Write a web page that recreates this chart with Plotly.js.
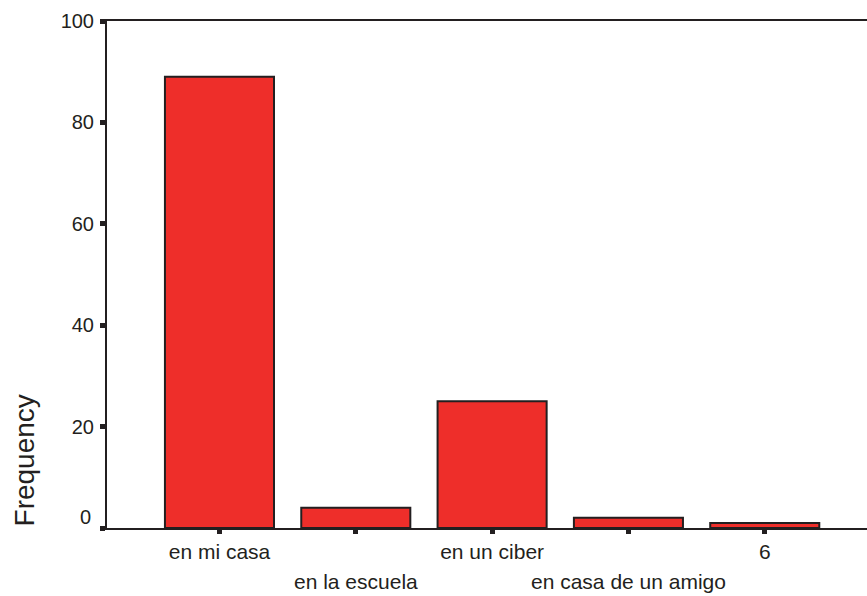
<!DOCTYPE html>
<html>
<head>
<meta charset="utf-8">
<script src="https://cdn.plot.ly/plotly-3.0.1.min.js"></script>
<style>html,body{margin:0;padding:0;background:#fff;}#chart{width:867px;height:596px;}</style>
</head>
<body>
<div id="chart"></div>
<script>
var categories = ["en mi casa", "en la escuela", "en un ciber", "en casa de un amigo", "6"];
var frequency = [89, 4, 25, 2, 1];
var yTickVals = [0, 20, 40, 60, 80, 100];
var yTickText = ["", "20", "40", "60", "80", "100"];
var yZeroLabel = "0";
var yTitle = "Frequency";

var ink = "#231f20";
var fontFam = "Liberation Sans, Arial, sans-serif";

var row1Text = categories.map(function (c, i) { return i % 2 === 0 ? c : ""; });

var annotations = [];
categories.forEach(function (c, i) {
  if (i % 2 === 1) {
    annotations.push({
      x: c, xref: "x", y: 0, yref: "paper",
      yanchor: "top", xanchor: "center",
      yshift: -41, showarrow: false, text: c, borderpad: 0,
      font: {family: fontFam, size: 21, color: ink}
    });
  }
});
annotations.push({
  x: 0, xref: "paper", y: 0, yref: "y", xanchor: "right", yanchor: "middle",
  xshift: -14, yshift: 11, showarrow: false, text: yZeroLabel,
  font: {family: fontFam, size: 20, color: ink}
});
annotations.push({
  x: -0.109, xref: "paper", y: 0.1335, yref: "paper", xanchor: "center", yanchor: "middle",
  textangle: -90, showarrow: false, text: yTitle,
  font: {family: fontFam, size: 28, color: ink}
});

var trace = {
  type: "bar",
  x: categories,
  y: frequency,
  marker: {color: "#ee2e2a", line: {color: ink, width: 2}},
  hoverinfo: "x+y"
};

var layout = {
  width: 867, height: 596,
  margin: {l: 107, r: 0, t: 21, b: 68, pad: 0},
  paper_bgcolor: "#fff", plot_bgcolor: "#fff",
  showlegend: false,
  bargap: 0.2,
  font: {family: fontFam, size: 20, color: ink},
  xaxis: {
    type: "category",
    range: [-0.825, 4.75],
    tickmode: "array", tickvals: categories, ticktext: row1Text,
    ticks: "outside", ticklen: 4, tickwidth: 5, tickcolor: ink,
    showline: true, linecolor: ink, linewidth: 2, mirror: true,
    showgrid: false, zeroline: false,
    tickfont: {family: fontFam, size: 21, color: ink}
  },
  yaxis: {
    range: [0, 100],
    tickmode: "array", tickvals: yTickVals, ticktext: yTickText,
    ticks: "outside", ticklen: 5, tickwidth: 5, tickcolor: ink,
    showline: true, linecolor: ink, linewidth: 2,
    showgrid: false, zeroline: false,
    ticklabelstandoff: 2,
    tickfont: {family: fontFam, size: 20, color: ink}
  },
  annotations: annotations
};

Plotly.newPlot("chart", [trace], layout, {displayModeBar: false, staticPlot: true});
</script>
</body>
</html>
